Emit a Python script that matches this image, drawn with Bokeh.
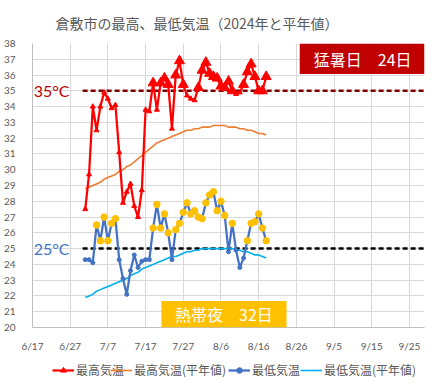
import pandas as pd
from bokeh.plotting import figure
from bokeh.layouts import column
from bokeh.models import (Range1d, FixedTicker, Legend, LegendItem,
                          BoxAnnotation, Label)
from bokeh.embed import file_html
from bokeh.resources import INLINE

# ---------------- data ----------------
axis_start = "2024-06-17"
first_day = "2024-07-01"
last_day = "2024-08-18"

tmax = [27.5, 29.7, 34.0, 32.5, 34.0, 34.9, 34.5, 33.9, 34.1, 31.1,
        27.9, 28.6, 29.1, 27.7, 27.0, 28.7, 33.8, 33.7, 35.5, 33.8,
        35.5, 35.8, 35.4, 32.6, 36.0, 36.9, 35.4, 34.7, 34.5, 34.4,
        35.2, 36.3, 36.8, 36.1, 35.9, 35.8, 35.3, 35.2, 35.6, 35.0,
        34.8, 34.9, 35.4, 36.2, 36.7, 35.9, 35.0, 35.0, 35.9]

tmax_normal = [28.8, 28.9, 29.0, 29.1, 29.2, 29.4, 29.5, 29.6, 29.7, 29.9,
               30.0, 30.2, 30.3, 30.5, 30.7, 30.9, 31.1, 31.3, 31.5, 31.7,
               31.8, 31.9, 32.0, 32.1, 32.2, 32.3, 32.4, 32.5, 32.5, 32.6,
               32.6, 32.7, 32.7, 32.7, 32.8, 32.8, 32.8, 32.8, 32.7, 32.7,
               32.7, 32.6, 32.6, 32.5, 32.5, 32.4, 32.3, 32.3, 32.2]

tmin = [24.3, 24.3, 24.1, 26.5, 25.5, 27.0, 25.5, 26.6, 26.9, 24.3,
        23.1, 22.1, 23.6, 24.6, 23.8, 24.2, 24.3, 24.3, 26.3, 27.8,
        26.3, 27.2, 26.0, 24.3, 26.2, 26.6, 27.3, 27.9, 27.2, 27.4,
        27.0, 26.9, 27.9, 28.4, 28.6, 27.4, 28.0, 27.1, 24.8, 26.6,
        24.9, 23.8, 24.4, 25.5, 26.6, 26.7, 27.2, 26.3, 25.5]

tmin_normal = [21.9, 22.0, 22.1, 22.3, 22.4, 22.5, 22.6, 22.7, 22.8, 22.9,
               23.0, 23.1, 23.3, 23.4, 23.5, 23.7, 23.8, 23.9, 24.0, 24.1,
               24.2, 24.3, 24.4, 24.5, 24.5, 24.6, 24.7, 24.8, 24.8, 24.9,
               24.9, 25.0, 25.0, 25.0, 25.0, 25.0, 25.0, 25.0, 25.0, 25.0,
               24.9, 24.9, 24.8, 24.8, 24.7, 24.6, 24.6, 24.5, 24.4]

x_tick_labels = ["6/17", "6/27", "7/7", "7/17", "7/27", "8/6", "8/16",
                 "8/26", "9/5", "9/15", "9/25"]
y_ticks = list(range(20, 39))
hot_threshold = 35
tropical_threshold = 25

series_names = ["最高気温", "最高気温(平年値)", "最低気温", "最低気温(平年値)"]
title_text = "倉敷市の最高、最低気温（2024年と平年値）"

# ---------------- derived ----------------
t0 = pd.Timestamp(axis_start)
dates = pd.date_range(first_day, last_day)
x = [(d - t0).days for d in dates]
x_ticks = [(pd.Timestamp("2024-" + s.replace("/", "-")) - t0).days for s in x_tick_labels]
x_end = 104

hot_x = [xi for xi, v in zip(x, tmax) if v >= hot_threshold]
hot_y = [v for v in tmax if v >= hot_threshold]
trop_x = [xi for xi, v in zip(x, tmin) if v >= tropical_threshold]
trop_y = [v for v in tmin if v >= tropical_threshold]

JP = "Noto Sans CJK JP"
NUM = "Lato"
GRAY = "#595959"
C_MAX, C_MAXN, C_MIN, C_MINN = "#FF0000", "#ED7D31", "#4472C4", "#00B0F0"

p = figure(frame_width=392, frame_height=284, output_backend="svg",
           toolbar_location=None,
           x_range=Range1d(0, x_end), y_range=Range1d(20, 38),
           min_border_left=23, min_border_right=17, min_border_top=36,
           min_border_bottom=10)
p.outline_line_color = None
p.background_fill_color = "white"
p.border_fill_color = "white"

# title
p.title.text = title_text
p.title.align = "left"
p.title.offset = 23
p.title.text_font = JP
p.title.text_font_size = "14px"
p.title.text_font_style = "normal"
p.title.text_color = GRAY
p.title.standoff = 21

# axes
for ax in (p.xaxis[0], p.yaxis[0]):
    ax.major_tick_line_color = None
    ax.minor_tick_line_color = None
    ax.axis_line_color = "#BFBFBF"
    ax.major_label_text_font = NUM
    ax.major_label_text_font_size = "10px"
    ax.major_label_text_color = GRAY
p.xaxis.ticker = FixedTicker(ticks=x_ticks)
p.xaxis.major_label_overrides = {t: s for t, s in zip(x_ticks, x_tick_labels)}
p.xaxis.major_label_standoff = 6
p.yaxis.ticker = FixedTicker(ticks=y_ticks)
p.yaxis.major_label_standoff = 11

p.xgrid.ticker = FixedTicker(ticks=x_ticks)
p.ygrid.ticker = FixedTicker(ticks=y_ticks)
p.grid.grid_line_color = "#D9D9D9"
p.grid.grid_line_width = 1

# threshold lines (from the first data day to the end of the axis)
line_start = x[0] - 0.7
p.segment(x0=[line_start], y0=[hot_threshold], x1=[x_end], y1=[hot_threshold],
          line_color="#7F0000", line_dash="5 3", line_width=2.5)
p.segment(x0=[line_start], y0=[tropical_threshold], x1=[x_end], y1=[tropical_threshold],
          line_color="black", line_dash="5 3", line_width=2.5)

# series
p.line(x, tmax_normal, line_color=C_MAXN, line_width=1.6)
p.line(x, tmin_normal, line_color=C_MINN, line_width=1.6)

p.line(x, tmin, line_color=C_MIN, line_width=2.25)
p.scatter(x, tmin, marker="circle", size=4, color=C_MIN)
p.scatter(trop_x, trop_y, marker="circle", size=6.5, color="#FFC000")

p.line(x, tmax, line_color=C_MAX, line_width=2.25)
p.scatter(x, tmax, marker="triangle", size=5, color=C_MAX)
p.scatter(hot_x, hot_y, marker="triangle", size=10, color=C_MAX)

# threshold labels
p.add_layout(Label(x=0.3, y=hot_threshold, text="35°C", text_font=NUM,
                   text_font_size="16px", text_color="#C00000",
                   text_baseline="middle", text_align="left"))
p.add_layout(Label(x=0.3, y=tropical_threshold, text="25°C", text_font=NUM,
                   text_font_size="16px", text_color=C_MIN,
                   text_baseline="middle", text_align="left"))

# count boxes
n_hot = len(hot_x)
n_trop = len(trop_x)
p.add_layout(BoxAnnotation(left=70.9, right=x_end, bottom=36.07, top=38,
                           fill_color="#C00000", fill_alpha=1, line_color=None))
p.add_layout(Label(x=87.6, y=37.03, text=f"猛暑日　{n_hot}日", text_font=JP,
                   text_font_size="16px", text_color="white",
                   text_baseline="middle", text_align="center"))
p.add_layout(BoxAnnotation(left=34.2, right=67.4, bottom=20, top=21.68,
                           fill_color="#FFC000", fill_alpha=1, line_color=None))
p.add_layout(Label(x=50.8, y=20.84, text=f"熱帯夜　{n_trop}日", text_font=JP,
                   text_font_size="16px", text_color="white",
                   text_baseline="middle", text_align="center"))

# ---------------- legend strip (separate figure below the chart) ----------------
lg = figure(width=432, height=27, output_backend="svg", toolbar_location=None,
            x_range=Range1d(0, 1), y_range=Range1d(0, 1),
            x_axis_location=None, y_axis_location=None,
            min_border=0)
lg.outline_line_color = None
lg.grid.visible = False
lg.border_fill_color = "white"
# the same series, outside the strip's ranges: only their legend glyphs show
g_max = lg.line(x, tmax, line_color=C_MAX, line_width=2.25)
g_max_pts = lg.scatter(x, tmax, marker="triangle", size=5, color=C_MAX)
g_maxn = lg.line(x, tmax_normal, line_color=C_MAXN, line_width=1.6)
g_min = lg.line(x, tmin, line_color=C_MIN, line_width=2.25)
g_min_pts = lg.scatter(x, tmin, marker="circle", size=4, color=C_MIN)
g_minn = lg.line(x, tmin_normal, line_color=C_MINN, line_width=1.6)

legend_groups = [[g_max, g_max_pts], [g_maxn], [g_min, g_min_pts], [g_minn]]
legend_left = [20, 78, 196, 268]
for name, rends, lx in zip(series_names, legend_groups, legend_left):
    leg = Legend(items=[LegendItem(label=name, renderers=rends)],
                 orientation="horizontal", location=(lx, 3))
    leg.label_text_font = JP
    leg.label_text_font_size = "12px"
    leg.label_text_color = GRAY
    leg.glyph_width = 22
    leg.glyph_height = 14
    leg.label_standoff = 2
    leg.spacing = 0
    leg.padding = 0
    leg.margin = 0
    leg.border_line_color = None
    leg.background_fill_alpha = 0
    lg.add_layout(leg)

layout = column(p, lg, spacing=0)
open("out.html", "w").write(file_html(layout, INLINE))
